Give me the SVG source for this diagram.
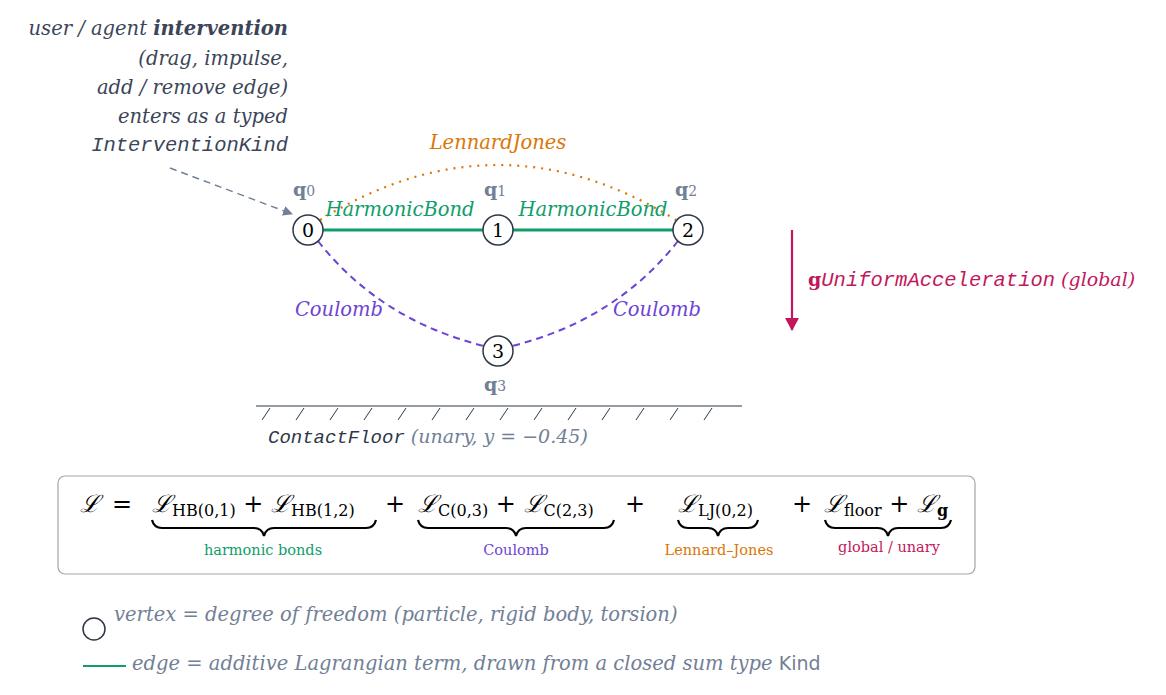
<svg xmlns="http://www.w3.org/2000/svg" width="1166" height="695" viewBox="0 0 1166 695">
<style>
.s{font-family:"DejaVu Serif","Liberation Serif",serif}
.i{font-style:italic}
.m{font-family:"Liberation Mono","DejaVu Sans Mono",monospace;font-style:italic}
.n{fill:#fff;stroke:#2d3748;stroke-width:1.5}
.nl{font-family:"DejaVu Serif",serif;font-size:19px;text-anchor:middle;fill:#000}
.q{font-family:"DejaVu Serif",serif;font-weight:bold;font-size:19px;fill:#718096}
.dk{fill:#3b4558}
.gr{fill:#718096}
</style>
<defs>
<marker id="ag" markerWidth="10" markerHeight="10" refX="9" refY="5" orient="auto" markerUnits="userSpaceOnUse"><path d="M0,0 L10,5 L0,10 z" fill="#718096"/></marker>
<marker id="am" markerWidth="14" markerHeight="14" refX="12" refY="7" orient="auto" markerUnits="userSpaceOnUse"><path d="M0,0 L13,7 L0,14 z" fill="#c2185b"/></marker>
</defs>
<g id="annotation" class="s i dk" font-size="19.5" text-anchor="end">
<text x="288" y="35">user / agent <tspan font-weight="bold">intervention</tspan></text>
<text x="288" y="65">(drag, impulse,</text>
<text x="288" y="94">add / remove edge)</text>
<text x="288" y="123">enters as a typed</text>
<text x="288" y="151" class="m" font-size="20.5">InterventionKind</text>
</g>
<g id="connectors">
<path d="M170,168 L292,214" stroke="#718096" stroke-width="1.5" stroke-dasharray="7,5" fill="none" marker-end="url(#ag)"/>
<path d="M320,220 Q498,110 676,220" stroke="#d97706" stroke-width="2.2" stroke-dasharray="2,6" fill="none"/>
<line x1="323" y1="230" x2="483" y2="230" stroke="#0f9d6b" stroke-width="3"/>
<line x1="513" y1="230" x2="673" y2="230" stroke="#0f9d6b" stroke-width="3"/>
<path d="M318,241 Q380,320 484,346" stroke="#6d44d6" stroke-width="2" stroke-dasharray="7,5" fill="none"/>
<path d="M678,241 Q616,320 512,346" stroke="#6d44d6" stroke-width="2" stroke-dasharray="7,5" fill="none"/>
<line x1="792" y1="230" x2="792" y2="330" stroke="#c2185b" stroke-width="2.2" marker-end="url(#am)"/>
<text x="498" y="149" class="s i" font-size="19.5" fill="#d97706" text-anchor="middle">LennardJones</text>
<text x="400" y="216" class="s i" font-size="19.5" fill="#0f9d6b" text-anchor="middle">HarmonicBond</text>
<text x="593" y="216" class="s i" font-size="19.5" fill="#0f9d6b" text-anchor="middle">HarmonicBond</text>
<text x="339" y="316" class="s i" font-size="19.5" fill="#6d44d6" text-anchor="middle">Coulomb</text>
<text x="657" y="316" class="s i" font-size="19.5" fill="#6d44d6" text-anchor="middle">Coulomb</text>
<text x="808" y="286" font-size="19" fill="#c2185b"><tspan font-family="DejaVu Serif,serif" font-weight="bold">g</tspan><tspan class="m" font-size="20.5">UniformAcceleration</tspan><tspan class="s i"> (global)</tspan></text>
</g>
<g id="node0"><circle cx="308" cy="230" r="15" class="n"/><text x="308" y="237" class="nl">0</text><text x="293" y="196" class="q">q<tspan font-size="14" font-weight="normal">0</tspan></text></g>
<g id="node1"><circle cx="498" cy="230" r="15" class="n"/><text x="498" y="237" class="nl">1</text><text x="484" y="196" class="q">q<tspan font-size="14" font-weight="normal">1</tspan></text></g>
<g id="node2"><circle cx="688" cy="230" r="15" class="n"/><text x="688" y="237" class="nl">2</text><text x="675" y="196" class="q">q<tspan font-size="14" font-weight="normal">2</tspan></text></g>
<g id="node3"><circle cx="498" cy="351" r="15" class="n"/><text x="498" y="358" class="nl">3</text><text x="484" y="391" class="q">q<tspan font-size="14" font-weight="normal">3</tspan></text></g>
<g id="floor">
<line x1="256" y1="406" x2="742" y2="406" stroke="#2d3748" stroke-width="1"/>
<path d="M270,408 l-8,12 M304,408 l-8,12 M338,408 l-8,12 M372,408 l-8,12 M406,408 l-8,12 M440,408 l-8,12 M474,408 l-8,12 M508,408 l-8,12 M542,408 l-8,12 M576,408 l-8,12 M610,408 l-8,12 M644,408 l-8,12 M678,408 l-8,12 M712,408 l-8,12" stroke="#2d3748" stroke-width="1"/>
<text x="268" y="443" font-size="19"><tspan class="m" fill="#2d3748" font-size="19">ContactFloor</tspan><tspan class="s i gr" font-size="19"> (unary, y = −0.45)</tspan></text>
</g>
<g id="lagrangian">
<rect x="58" y="476" width="917" height="98" rx="7" fill="#fff" stroke="#a0a4ab" stroke-width="1.2"/>
<g class="s i" font-size="24" fill="#000">
<text x="80" y="512">ℒ</text>
<text x="112" y="512" font-style="normal">=</text>
<text x="152" y="512">ℒ<tspan font-style="normal" font-size="16" dy="4">HB(0,1)</tspan><tspan font-style="normal" dy="-4"> + </tspan>ℒ<tspan font-style="normal" font-size="16" dy="4">HB(1,2)</tspan></text>
<text x="385" y="512" font-style="normal">+</text>
<text x="418" y="512">ℒ<tspan font-style="normal" font-size="16" dy="4">C(0,3)</tspan><tspan font-style="normal" dy="-4"> + </tspan>ℒ<tspan font-style="normal" font-size="16" dy="4">C(2,3)</tspan></text>
<text x="625" y="512" font-style="normal">+</text>
<text x="678" y="512">ℒ<tspan font-style="normal" font-size="16" dy="4">LJ(0,2)</tspan></text>
<text x="792" y="512" font-style="normal">+</text>
<text x="824" y="512">ℒ<tspan font-style="normal" font-size="16" dy="4">floor</tspan><tspan font-style="normal" dy="-4"> + </tspan>ℒ<tspan font-style="normal" font-weight="bold" font-size="16" dy="4">g</tspan></text>
</g>
<g fill="none" stroke="#000" stroke-width="2.2">
<path d="M152,520 q2,8 10,8 h92 q8,0 10,8 q2,-8 10,-8 h92 q8,0 10,-8"/>
<path d="M418,520 q2,8 10,8 h78 q8,0 10,8 q2,-8 10,-8 h78 q8,0 10,-8"/>
<path d="M678,520 q2,8 10,8 h20 q8,0 10,8 q2,-8 10,-8 h20 q8,0 10,-8"/>
<path d="M825,520 q2,8 10,8 h43 q8,0 10,8 q2,-8 10,-8 h43 q8,0 10,-8"/>
</g>
<g class="s" font-size="14.5" text-anchor="middle">
<text x="263" y="555" fill="#0f9d6b">harmonic bonds</text>
<text x="516" y="555" fill="#6d44d6">Coulomb</text>
<text x="719" y="555" fill="#d97706">Lennard–Jones</text>
<text x="889" y="552" fill="#c2185b">global / unary</text>
</g>
</g>
<g id="legend">
<circle cx="94" cy="629" r="11" fill="#fff" stroke="#2d3748" stroke-width="1.5"/>
<text x="114" y="621" class="s i gr" font-size="19.5">vertex = degree of freedom  (particle, rigid body, torsion)</text>
<line x1="83" y1="666" x2="126" y2="666" stroke="#0f9d6b" stroke-width="2"/>
<text x="132" y="670" class="s i gr" font-size="19.5">edge = additive Lagrangian term, drawn from a closed sum type <tspan font-family="DejaVu Sans,sans-serif" font-style="normal" font-size="19">Kind</tspan></text>
</g>
</svg>
